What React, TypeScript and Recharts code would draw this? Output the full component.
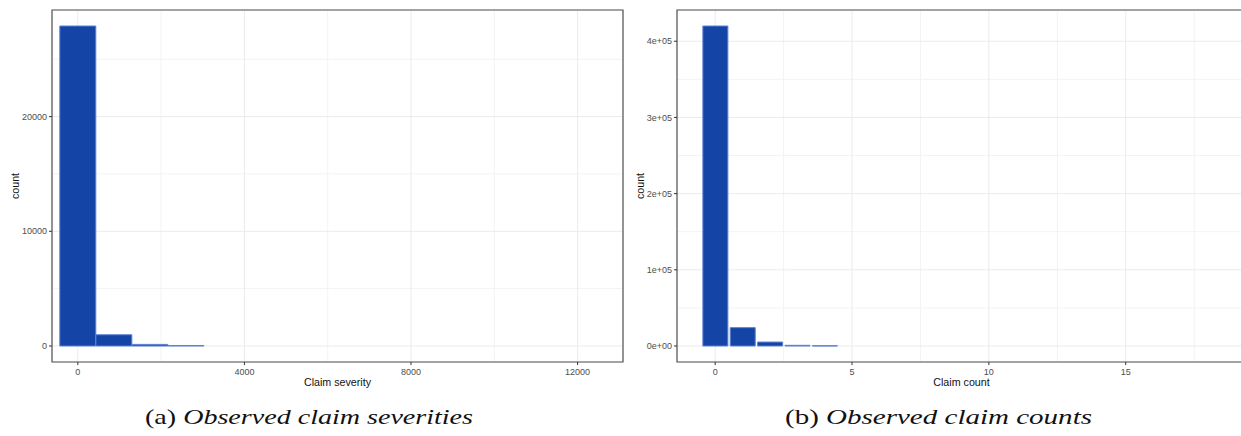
import React from 'react';
import { BarChart, Bar, XAxis, YAxis, CartesianGrid, ReferenceArea } from 'recharts';

// ---- Panel (a): claim severities (histogram) ----
const sevBinCenters = [0, 865, 1730, 2595];
const sevCounts = [27900, 980, 140, 40];
const sevXTicks = [0, 4000, 8000, 12000];
const sevXMinorTicks = [2000, 6000, 10000];
const sevYTicks = [0, 10000, 20000];
const sevYMinorTicks = [5000, 15000, 25000];
const sevXDomain = [-620, 13090];
const sevYDomain = [-1395, 29295];

// ---- Panel (b): claim counts (bar chart) ----
const cntValues = [0, 1, 2, 3, 4];
const cntCounts = [420000, 24100, 5200, 900, 300];
const cntXTicks = [0, 5, 10, 15];
const cntXMinorTicks = [2.5, 7.5, 12.5, 17.5];
const cntYTicks = [0, 100000, 200000, 300000, 400000];
const cntYMinorTicks = [50000, 150000, 250000, 350000];
const cntXDomain = [-1.395, 19.395];
const cntYDomain = [-21000, 441000];

const sevData = sevBinCenters.map((x, i) => ({ x, n: sevCounts[i] }));
const cntData = cntValues.map((x, i) => ({ x, n: cntCounts[i] }));

const SANS = '"Liberation Sans", Arial, sans-serif';
const SERIF = '"Liberation Serif", "Times New Roman", serif';
const FILL = '#1445A6';
const OUTLINE = '#5B82D4';

const rFormat = (v: number) => {
  if (v === 0) return '0e+00';
  const [m, e] = v.toExponential().split('e');
  const sign = e[0];
  const digits = e.slice(1).padStart(2, '0');
  return `${m}e${sign}${digits}`;
};

type PanelProps = {
  data: { x: number; n: number }[];
  xTicks: number[];
  xMinor: number[];
  yTicks: number[];
  yMinor: number[];
  xDomain: number[];
  yDomain: number[];
  gap: string | number;
  yFmt?: (v: number) => string;
  left: number;
  width: number;
  rightMargin: number;
};

function Panel(p: PanelProps) {
  const tick = { fontSize: 9, fill: '#4D4D4D', fontFamily: SANS };
  return (
    <div style={{ position: 'absolute', left: p.left, top: 0 }}>
      <BarChart
        width={p.width}
        height={395}
        data={p.data}
        margin={{ top: 10, right: p.rightMargin, left: 0, bottom: 0 }}
        barCategoryGap={p.gap}
        barGap={0}
      >
        <XAxis xAxisId="minor" type="number" dataKey="x" domain={p.xDomain} allowDataOverflow ticks={p.xMinor} hide />
        <YAxis yAxisId="minor" type="number" domain={p.yDomain} allowDataOverflow ticks={p.yMinor} hide />
        <CartesianGrid xAxisId="minor" yAxisId="minor" stroke="#F3F3F3" strokeWidth={1} />
        <CartesianGrid stroke="#EBEBEB" strokeWidth={1} />
        <XAxis
          type="number"
          dataKey="x"
          domain={p.xDomain}
          allowDataOverflow
          ticks={p.xTicks}
          interval={0}
          height={33}
          tickSize={3}
          tickMargin={4}
          axisLine={false}
          tickLine={{ stroke: '#333333' }}
          tick={tick}
        />
        <YAxis
          type="number"
          domain={p.yDomain}
          allowDataOverflow
          ticks={p.yTicks}
          interval={0}
          width={52}
          tickSize={3}
          tickMargin={2}
          axisLine={false}
          tickLine={{ stroke: '#333333' }}
          tick={tick}
          tickFormatter={p.yFmt}
        />
        <Bar dataKey="n" fill={FILL} stroke={OUTLINE} strokeWidth={1} isAnimationActive={false} />
        <ReferenceArea
          x1={p.xDomain[0]}
          x2={p.xDomain[1]}
          y1={p.yDomain[0]}
          y2={p.yDomain[1]}
          ifOverflow="visible"
          fill="none"
          fillOpacity={0}
          stroke="#555555"
          strokeWidth={1.2}
        />
      </BarChart>
    </div>
  );
}

export default function App() {
  return (
    <div style={{ position: 'absolute', left: 0, top: 0, width: 1241, height: 436, overflow: 'hidden', background: '#fff' }}>
      <Panel
        data={sevData}
        xTicks={sevXTicks}
        xMinor={sevXMinorTicks}
        yTicks={sevYTicks}
        yMinor={sevYMinorTicks}
        xDomain={sevXDomain}
        yDomain={sevYDomain}
        gap={0}
        left={0}
        width={630}
        rightMargin={7}
      />
      <Panel
        data={cntData}
        xTicks={cntXTicks}
        xMinor={cntXMinorTicks}
        yTicks={cntYTicks}
        yMinor={cntYMinorTicks}
        xDomain={cntXDomain}
        yDomain={cntYDomain}
        gap="5%"
        yFmt={rFormat}
        left={625}
        width={626}
        rightMargin={5}
      />
      <svg width={1241} height={436} style={{ position: 'absolute', left: 0, top: 0, pointerEvents: 'none' }}>
        <text x={15} y={186} transform="rotate(-90 15 186)" textAnchor="middle" dominantBaseline="central" fontFamily={SANS} fontSize={10.7} fill="#111">count</text>
        <text x={640} y={186} transform="rotate(-90 640 186)" textAnchor="middle" dominantBaseline="central" fontFamily={SANS} fontSize={10.7} fill="#111">count</text>
        <text x={337.5} y={386} textAnchor="middle" fontFamily={SANS} fontSize={10.7} fill="#111">Claim severity</text>
        <text x={961.5} y={386} textAnchor="middle" fontFamily={SANS} fontSize={10.7} fill="#111">Claim count</text>
        <text x={145} y={424} fontFamily={SERIF} fontSize={22} fill="#111" textLength={328} lengthAdjust="spacingAndGlyphs">
          <tspan>(a) </tspan>
          <tspan fontStyle="italic">Observed claim severities</tspan>
        </text>
        <text x={785} y={424} fontFamily={SERIF} fontSize={22} fill="#111" textLength={307} lengthAdjust="spacingAndGlyphs">
          <tspan>(b) </tspan>
          <tspan fontStyle="italic">Observed claim counts</tspan>
        </text>
      </svg>
    </div>
  );
}
